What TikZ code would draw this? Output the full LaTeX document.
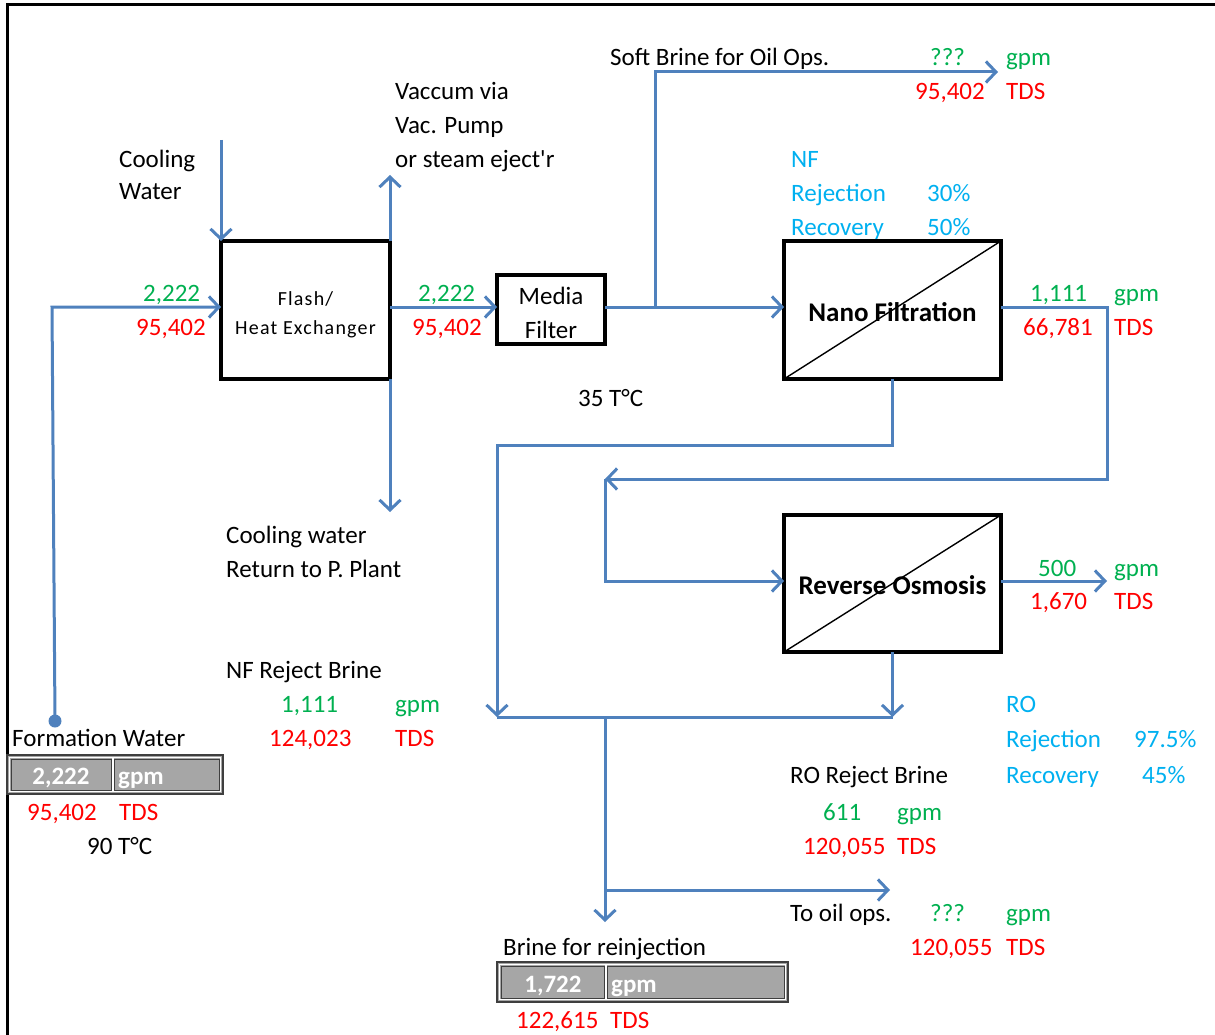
\documentclass[tikz,border=0pt]{standalone}
\usepackage{fontspec}
\setmainfont{Carlito}
\usetikzlibrary{arrows.meta,calc}

\definecolor{flowblue}{HTML}{4F81BD}
\definecolor{gpmgreen}{HTML}{00B050}
\definecolor{tdsred}{HTML}{FF0000}
\definecolor{paramcyan}{HTML}{00B0F0}
\definecolor{cellgray}{HTML}{A6A6A6}
\definecolor{celledge}{HTML}{3F3F3F}

\newcommand\fs{\fontsize{25}{34}\selectfont}

\tikzset{
  pipe/.style={draw=flowblue, line width=3pt},
  flow/.style={pipe, -{Straight Barb[length=10pt,width=21pt]}},
  unitbox/.style={draw=black, line width=3.5pt, fill=white, inner sep=0pt, outer sep=0pt},
  lbl/.style={anchor=base west, inner sep=0pt, font=\fs},
  ctr/.style={anchor=base, inner sep=0pt},
  gr/.style={text=gpmgreen},
  rd/.style={text=tdsred},
  cy/.style={text=paramcyan},
  cellnum/.style={anchor=base, inner sep=0pt, text=white, font=\fs\bfseries},
}

\begin{document}
\begin{tikzpicture}[x=1pt,y=-1pt]
\useasboundingbox (0,0) rectangle (1215,1035);

% page frame (top and left rules)
\draw[line width=3pt] (7,1035) -- (7,5) -- (1215,5);

% process units
\node[unitbox, minimum width=169pt, minimum height=138pt] (flash) at (305.5,310) {};
\node[unitbox, minimum width=108pt, minimum height=69pt] (media) at (551,309.5) {};
\node[unitbox, minimum width=217pt, minimum height=138pt] (nf) at (892.5,310) {};
\node[unitbox, minimum width=217pt, minimum height=137pt] (ro) at (892.5,583.5) {};
\draw[line width=1.4pt] (nf.south west) -- (nf.north east);
\draw[line width=1.4pt] (ro.south west) -- (ro.north east);

\node[ctr, font=\fontsize{20}{29}\selectfont\addfontfeature{LetterSpace=6}]
      (flashl1) at (305.5,305) {Flash/};
\node[ctr, font=\fontsize{20}{29}\selectfont\addfontfeature{LetterSpace=6}]
      (flashl2) at (305.5,334) {Heat Exchanger};
\node[ctr, font=\fs] (medial1) at (551,304) {Media};
\node[ctr, font=\fs] (medial2) at (551,338) {Filter};
\node[ctr, font=\fontsize{27}{34}\selectfont\bfseries] (nflbl) at (892.5,321) {Nano Filtration};
\node[ctr, font=\fontsize{27}{34}\selectfont\bfseries] (rolbl) at (892.5,594) {Reverse Osmosis};

% reference levels and free ends of the connectors
\coordinate (main) at (0,307);
\coordinate (roin) at (0,581);
\coordinate (fwdot) at (55,721);
\coordinate (fwbend) at (52,307);
\coordinate (cwin) at (221,140);
\coordinate (vac) at (390,175);
\coordinate (cwret) at (390,512);
\coordinate (sbsplit) at (655,307);
\coordinate (sbend) at (998,72);
\coordinate (nfr) at (1107,479);
\coordinate (roloop) at (605,479);
\coordinate (nfrej) at (497,445);
\coordinate (nfdrop) at (497,717);
\coordinate (roperm) at (1107,581);
\coordinate (rodrop) at (892.5,717);
\coordinate (mix) at (605,717);
\coordinate (reinj) at (605,922);
\coordinate (oilsplit) at (605,890);
\coordinate (oilend) at (890,890);

% connectors
\fill[flowblue] (fwdot) circle (6.5);
\draw[flow] (fwdot) -- (fwbend) -- (flash.west |- main);
\draw[flow] (cwin) -- (flash.north west);
\draw[flow] (flash.north east) -- (vac);
\draw[flow] (flash.south east) -- (cwret);
\draw[flow] (flash.east |- main) -- (media.west |- main);
\draw[flow] (media.east |- main) -- (nf.west |- main);
\draw[flow] (sbsplit) |- (sbend);
\draw[flow] (nf.east |- main) -| (nfr) -- (roloop);
\draw[flow] (roloop) |- (ro.west |- roin);
\draw[flow] (nf.south) |- (nfrej) -- (nfdrop);
\draw[flow] (ro.east |- roin) -- (roperm);
\draw[flow] (ro.south) -- (rodrop);
\draw[pipe] (nfdrop) -- (rodrop);
\draw[flow] (mix) -- (reinj);
\draw[flow] (oilsplit) -- (oilend);

% stream tables (gray cells)
\newcommand\graycells[5]{%
  \fill[cellgray] (#1,#2) rectangle (#3,#4);
  \draw[celledge, line width=1pt] (#1+4,#2+4) rectangle (#5-1.5,#4-4);
  \draw[celledge, line width=1pt] (#5+1.5,#2+4) rectangle (#3-4,#4-4);
  \draw[white, line width=1.2pt] (#1+2.5,#2+2.5) rectangle (#3-2.5,#4-2.5);
  \draw[white, line width=1.2pt] (#5,#2+2.5) -- (#5,#4-2.5);
  \draw[celledge, line width=2.2pt] (#1,#2) rectangle (#3,#4);
}
\graycells{7}{755}{223}{794}{113}
\node[cellnum] (fwflow) at (61,784) {2,222};
\node[cellnum, anchor=base west] (fwunit) at (118,784) {gpm};
\graycells{497}{962}{788}{1002}{606}
\node[cellnum] (briflow) at (553,992) {1,722};
\node[cellnum, anchor=base west] (briunit) at (611,992) {gpm};

% labels
\node[lbl] (sbtitle) at (610,66) {Soft Brine for Oil Ops.};
\node[lbl,gr] (sbq) at (930,66) {???};
\node[lbl,gr] (sbgpm) at (1006,66) {gpm};
\node[lbl,rd] (sbtds) at (915,100) {95,402};
\node[lbl,rd] (sbtdsu) at (1006,100) {TDS};

\node[lbl] (vac1) at (395,100) {Vaccum via};
\node[lbl] (vac2) at (395,134) {Vac. Pump};
\node[lbl] (vac3) at (395,168) {or steam eject\textquotesingle r};

\node[lbl] (cool1) at (119,168) {Cooling};
\node[lbl] (cool2) at (119,200) {Water};

\node[lbl,cy] (nfh) at (791,168) {NF};
\node[lbl,cy] (nfrj) at (791,201) {Rejection};
\node[lbl,cy] (nfrjv) at (927,201) {30\%};
\node[lbl,cy] (nfrc) at (791,235) {Recovery};
\node[lbl,cy] (nfrcv) at (927,235) {50\%};

\node[lbl,gr] (f1) at (143,301) {2,222};
\node[lbl,rd] (f2) at (136,335) {95,402};
\node[lbl,gr] (h1) at (418,301) {2,222};
\node[lbl,rd] (h2) at (412,335) {95,402};

\node[lbl,gr] (n1) at (1030,301) {1,111};
\node[lbl,gr] (n1u) at (1114,301) {gpm};
\node[lbl,rd] (n2) at (1023,335) {66,781};
\node[lbl,rd] (n2u) at (1114,335) {TDS};

\node[lbl] (temp1) at (578,406) {35 T°C};

\node[lbl] (ret1) at (226,543) {Cooling water};
\node[lbl] (ret2) at (226,577) {Return to P. Plant};

\node[lbl,gr] (r1) at (1038,576) {500};
\node[lbl,gr] (r1u) at (1114,576) {gpm};
\node[lbl,rd] (r2) at (1030,609) {1,670};
\node[lbl,rd] (r2u) at (1114,609) {TDS};

\node[lbl] (nfrb) at (226,678) {NF Reject Brine};
\node[lbl,gr] (nfrb1) at (281,712) {1,111};
\node[lbl,gr] (nfrb1u) at (395,712) {gpm};
\node[lbl,rd] (nfrb2) at (269,746) {124,023};
\node[lbl,rd] (nfrb2u) at (395,746) {TDS};

\node[lbl,cy] (roh) at (1006,712) {RO};
\node[lbl,cy] (rorj) at (1006,747) {Rejection};
\node[lbl,cy] (rorjv) at (1134,747) {97.5\%};
\node[lbl,cy] (rorc) at (1006,783) {Recovery};
\node[lbl,cy] (rorcv) at (1142,783) {45\%};

\node[lbl] (rorb) at (790,783) {RO Reject Brine};
\node[lbl,gr] (rorb1) at (823,820) {611};
\node[lbl,gr] (rorb1u) at (897,820) {gpm};
\node[lbl,rd] (rorb2) at (803,854) {120,055};
\node[lbl,rd] (rorb2u) at (897,854) {TDS};

\node[lbl] (toil) at (790,921) {To oil ops.};
\node[lbl,gr] (toilq) at (930,921) {???};
\node[lbl,gr] (toilu) at (1006,921) {gpm};
\node[lbl,rd] (toil2) at (910,955) {120,055};
\node[lbl,rd] (toil2u) at (1006,955) {TDS};

\node[lbl] (fw) at (12,746) {Formation Water};
\node[lbl,rd] (fw2) at (27,820) {95,402};
\node[lbl,rd] (fw2u) at (119,820) {TDS};
\node[lbl] (fw3) at (87,854) {90 T°C};

\node[lbl] (bri) at (503,955) {Brine for reinjection};
\node[lbl,rd] (bri2) at (516,1028) {122,615};
\node[lbl,rd] (bri2u) at (610,1028) {TDS};
\end{tikzpicture}
\end{document}
